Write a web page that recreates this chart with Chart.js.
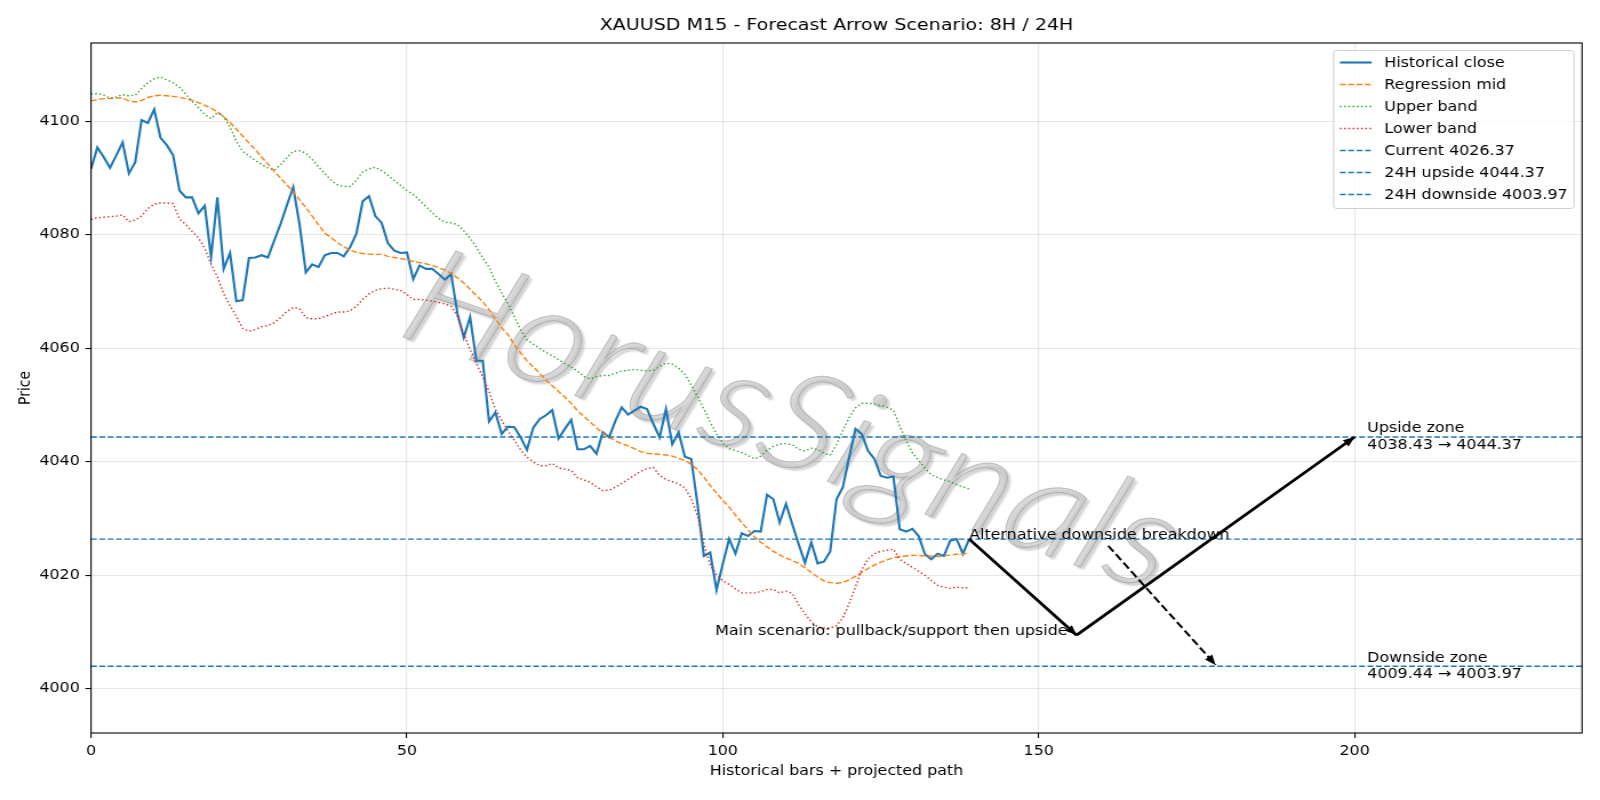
<!DOCTYPE html>
<html>
<head>
<meta charset="utf-8">
<title>XAUUSD M15 - Forecast Arrow Scenario</title>
<script src="https://cdn.jsdelivr.net/npm/chart.js@4.4.1/dist/chart.umd.min.js"></script>
<style>
  html, body { margin: 0; padding: 0; background: #fff; }
  #wrap { width: 1600px; height: 800px; }
</style>
</head>
<body>
<div id="wrap">
  <!-- drawn at 1400x800 and stretched to 1600 wide, like the source image -->
  <canvas id="chart" width="1400" height="800" style="width:1600px;height:800px"></canvas>
</div>
<script>
// --- data ---
const closes = [
  4091.6, 4095.4, 4093.7, 4091.8, 4094.0, 4096.3, 4090.8, 4092.8, 4100.2, 4099.7,
  4102.1, 4097.1, 4095.8, 4094.0, 4087.8, 4086.6, 4086.6, 4083.8, 4085.1, 4076.1,
  4086.6, 4074.0, 4076.8, 4068.3, 4068.5, 4075.9, 4076.0, 4076.4, 4076.0, 4079.0,
  4081.9, 4085.2, 4088.4, 4081.9, 4073.4, 4074.8, 4074.3, 4076.4, 4076.8, 4076.8,
  4076.2, 4077.8, 4080.2, 4085.9, 4086.8, 4083.3, 4082.1, 4078.5, 4077.2, 4076.8,
  4076.9, 4072.2, 4074.6, 4074.0, 4074.0, 4073.1, 4072.1, 4073.1, 4066.1, 4061.9,
  4065.5, 4057.8, 4057.8, 4047.1, 4048.7, 4044.9, 4046.2, 4046.1, 4044.3, 4042.1,
  4046.0, 4047.5, 4048.2, 4049.1, 4044.1, 4045.8, 4047.4, 4042.2, 4042.2, 4042.8,
  4041.4, 4045.2, 4044.3, 4047.2, 4049.6, 4048.3, 4049.0, 4049.7, 4049.3, 4046.7,
  4044.3, 4049.3, 4043.1, 4045.2, 4040.9, 4040.5, 4032.5, 4023.4, 4024.0, 4017.4,
  4022.0, 4026.4, 4023.8, 4027.4, 4026.9, 4027.8, 4027.7, 4034.2, 4033.4, 4029.3,
  4032.6, 4029.0, 4025.5, 4022.2, 4025.8, 4022.1, 4022.4, 4024.2, 4033.4, 4035.5,
  4040.8, 4045.8, 4044.9, 4041.9, 4040.5, 4037.5, 4037.2, 4037.4, 4028.1, 4027.7,
  4028.2, 4026.9, 4023.7, 4022.8, 4023.8, 4023.4, 4026.1, 4026.4, 4023.8, 4026.37
];
const regMid = [
  4103.6, 4103.8, 4104.0, 4104.0, 4104.1, 4104.1, 4103.6, 4103.4, 4103.7, 4104.2,
  4104.5, 4104.6, 4104.5, 4104.4, 4104.2, 4104.0, 4103.7, 4103.3, 4102.8, 4102.3,
  4101.7, 4100.8, 4099.8, 4098.6, 4097.4, 4096.2, 4095.0, 4093.7, 4092.5, 4091.2,
  4090.0, 4088.8, 4087.6, 4086.2, 4084.8, 4083.3, 4081.8, 4080.3, 4079.5, 4078.6,
  4077.9, 4077.3, 4076.9, 4076.7, 4076.6, 4076.5, 4076.6, 4076.2, 4076.0, 4075.8,
  4075.6, 4075.3, 4075.1, 4074.9, 4074.6, 4074.2, 4073.8, 4073.2, 4072.4, 4071.5,
  4070.4, 4069.3, 4068.2, 4066.8, 4065.2, 4063.6, 4062.4, 4060.6, 4059.2, 4057.8,
  4056.7, 4055.6, 4054.4, 4053.4, 4052.4, 4051.4, 4050.3, 4049.0, 4048.0, 4047.0,
  4046.0, 4045.0, 4044.3, 4043.7, 4043.2, 4042.8, 4042.3, 4041.8, 4041.5, 4041.4,
  4041.3, 4041.2, 4041.0, 4040.6, 4040.2, 4039.6, 4038.6, 4037.3, 4035.8, 4034.5,
  4033.2, 4032.0, 4030.6, 4029.3, 4028.0, 4026.8, 4025.8, 4025.0, 4024.2, 4023.6,
  4023.0, 4022.6, 4022.1, 4021.3, 4020.5, 4019.7, 4019.0, 4018.7, 4018.6, 4018.7,
  4019.2, 4019.8, 4020.5, 4021.2, 4021.8, 4022.3, 4022.7, 4023.1, 4023.3, 4023.4,
  4023.5, 4023.5, 4023.4, 4023.4, 4023.3, 4023.4, 4023.6, 4023.7, 4023.8, 4023.9
];
const upperBand = [
  4104.8, 4104.9, 4104.6, 4104.1, 4104.3, 4104.7, 4104.5, 4104.6, 4105.8, 4106.8,
  4107.5, 4107.8, 4107.3, 4106.8, 4106.0, 4104.8, 4103.5, 4102.4, 4101.2, 4100.5,
  4101.5, 4100.8, 4099.0, 4096.5, 4094.7, 4093.9, 4093.1, 4092.4, 4091.8, 4091.4,
  4092.3, 4093.6, 4094.7, 4094.8, 4094.4, 4093.3, 4092.0, 4090.8, 4089.6, 4088.8,
  4088.5, 4088.5, 4089.6, 4091.1, 4091.6, 4091.9, 4091.3, 4090.5, 4089.6, 4088.7,
  4087.8, 4087.1, 4086.1, 4085.0, 4083.9, 4082.9, 4082.2, 4082.1, 4081.8, 4080.7,
  4079.4, 4077.8, 4075.9, 4074.3, 4071.8, 4069.8, 4067.8, 4065.6, 4063.2, 4061.5,
  4060.7, 4060.0, 4059.3, 4058.7, 4058.0, 4057.3, 4056.7, 4056.0, 4055.0, 4054.6,
  4055.0, 4055.2, 4055.2, 4055.6, 4056.0, 4056.1, 4056.3, 4056.1, 4056.0, 4056.1,
  4056.8, 4057.4, 4057.2, 4056.5, 4055.4, 4053.5, 4051.5, 4049.3, 4047.0, 4044.9,
  4043.3, 4042.3, 4042.0, 4041.6, 4041.1, 4040.5, 4041.0, 4042.0, 4042.7, 4043.1,
  4043.2, 4043.0, 4042.2, 4041.9, 4042.4, 4042.2, 4041.5, 4041.2, 4043.0, 4045.5,
  4047.8, 4049.5, 4050.3, 4050.3, 4050.2, 4049.9, 4049.6, 4049.1, 4046.3, 4043.8,
  4041.6, 4040.2, 4038.9, 4037.7, 4037.2, 4036.8, 4036.5, 4036.0, 4035.6, 4035.2
];
const lowerBand = [
  4082.7, 4083.0, 4083.1, 4083.2, 4083.3, 4083.5, 4082.3, 4082.6, 4083.3, 4084.6,
  4085.4, 4085.6, 4085.6, 4085.5, 4082.8, 4081.8, 4080.6, 4079.5, 4077.6, 4074.8,
  4072.6, 4069.6, 4067.5, 4065.6, 4063.5, 4063.0, 4063.3, 4063.8, 4064.0, 4064.5,
  4065.4, 4066.5, 4067.2, 4067.0, 4065.4, 4065.2, 4065.2, 4065.6, 4066.0, 4066.4,
  4066.4, 4066.6, 4067.4, 4068.6, 4069.6, 4070.2, 4070.5, 4070.6, 4070.4, 4070.2,
  4069.5, 4068.6, 4068.6, 4068.5, 4068.3, 4068.1, 4067.8, 4067.4, 4065.6, 4062.5,
  4059.8, 4057.3, 4055.0, 4052.4, 4049.3, 4047.3, 4045.4, 4043.8, 4042.1, 4040.8,
  4040.0, 4039.3, 4039.3, 4039.7, 4038.9, 4038.7, 4038.5, 4037.2, 4036.8, 4036.4,
  4035.6, 4034.9, 4035.0, 4035.5, 4036.2, 4036.9, 4037.6, 4038.3, 4038.8, 4039.0,
  4037.6, 4036.9, 4036.5, 4036.1, 4035.4, 4033.5, 4030.5, 4025.5, 4021.8, 4020.1,
  4019.0, 4018.4, 4017.6, 4016.9, 4016.9, 4016.9, 4017.1, 4017.5, 4017.5, 4016.9,
  4017.2, 4016.8, 4014.8, 4013.2, 4011.8, 4010.9, 4010.7, 4010.7, 4011.1, 4012.5,
  4015.0, 4018.0, 4021.0, 4022.9, 4023.8, 4024.2, 4024.4, 4024.6, 4022.8, 4022.1,
  4021.4, 4020.7, 4020.0, 4019.1, 4018.2, 4017.9, 4017.7, 4017.9, 4017.8, 4017.8
];

const levelValues = [4026.37, 4044.37, 4003.97];
const levelLabels = ['Current 4026.37', '24H upside 4044.37', '24H downside 4003.97'];

// projected path: pullback to support, then upside; dashed alternative
const mainPathX = [139, 156, 200];
const mainPathY = [4026.37, 4009.44, 4044.37];
const altPathX = [161, 178];
const altPathY = [4025.2, 4004.2];

const zoneLabelX = 202;
const zoneLabelY = [4044.37, 4003.97];
const zoneLabels = [['Upside zone', '4038.43 \u2192 4044.37'], ['Downside zone', '4009.44 \u2192 4003.97']];

const xTicks = [0, 50, 100, 150, 200];
const yTicks = [4000, 4020, 4040, 4060, 4080, 4100];
const xRange = [0, 236];
const yRange = [3992.2, 4113.8];

const chartTitle = 'XAUUSD M15 - Forecast Arrow Scenario: 8H / 24H';
const watermark = 'HorusSignals';

// --- styling (matplotlib-like, 100 dpi) ---
const FONT = '"DejaVu Sans", "Liberation Sans", sans-serif';
const FS = 13.9;
const C0 = '#1f77b4', C1 = '#ff7f0e', C2 = '#2ca02c', C3 = '#d62728';
const DASH = [5.1, 2.2];
const DOT = [1.4, 2.3];
const GRID = 'rgba(176,176,176,0.32)';

Chart.defaults.font.family = FONT;
Chart.defaults.font.size = FS;
Chart.defaults.color = '#000';

const bars = closes.map((_, i) => i);
const toPts = ys => ys.map((y, i) => ({ x: bars[i], y: y }));
const seg = (xs, ys, a, b) => [{ x: xs[a], y: ys[a] }, { x: xs[b], y: ys[b] }];

const datasets = [
  { label: 'Historical close', data: toPts(closes), borderColor: C0, borderWidth: 2.1 },
  { label: 'Regression mid', data: toPts(regMid), borderColor: C1, borderWidth: 1.4, borderDash: DASH },
  { label: 'Upper band', data: toPts(upperBand), borderColor: C2, borderWidth: 1.4, borderDash: DOT },
  { label: 'Lower band', data: toPts(lowerBand), borderColor: C3, borderWidth: 1.4, borderDash: DOT }
];
levelValues.forEach((v, k) => {
  datasets.push({
    label: levelLabels[k],
    data: [{ x: xRange[0], y: v }, { x: xRange[1], y: v }],
    borderColor: C0, borderWidth: 1.4, borderDash: DASH
  });
});
datasets.push({ label: '', arrow: true, data: seg(mainPathX, mainPathY, 0, 1), borderColor: '#000', borderWidth: 2.8 });
datasets.push({ label: '', arrow: true, data: seg(mainPathX, mainPathY, 1, 2), borderColor: '#000', borderWidth: 2.8 });
datasets.push({ label: '', arrow: true, data: seg(altPathX, altPathY, 0, 1), borderColor: '#000', borderWidth: 2, borderDash: [7.5, 3.3] });
// later datasets on top, like matplotlib
datasets.forEach((d, i) => { d.order = datasets.length - i; });

function arrowHead(ctx, x0, y0, x1, y1, len, half) {
  const a = Math.atan2(y1 - y0, x1 - x0);
  ctx.beginPath();
  ctx.moveTo(x1, y1);
  ctx.lineTo(x1 - len * Math.cos(a) + half * Math.sin(a), y1 - len * Math.sin(a) - half * Math.cos(a));
  ctx.lineTo(x1 - len * Math.cos(a) - half * Math.sin(a), y1 - len * Math.sin(a) + half * Math.cos(a));
  ctx.closePath();
  ctx.fill();
}

const decor = {
  id: 'decor',
  beforeDatasetsDraw(chart) {
    const { ctx, chartArea: ca } = chart;
    ctx.save();
    ctx.beginPath();
    ctx.rect(ca.left, ca.top, ca.width, ca.height);
    ctx.clip();
    ctx.translate(ca.left + 614, ca.top + 379);
    ctx.rotate(0.37);
    ctx.font = 'italic 300 137px Lato, ' + FONT;
    ctx.textAlign = 'center';
    ctx.textBaseline = 'middle';
    ctx.shadowColor = 'rgba(0,0,0,0.25)';
    ctx.shadowOffsetX = 3;
    ctx.shadowOffsetY = 3;
    ctx.shadowBlur = 2;
    ctx.fillStyle = 'rgba(200,200,200,0.7)';
    ctx.fillText(watermark, 0, 0);
    ctx.shadowColor = 'transparent';
    ctx.strokeStyle = 'rgba(140,140,140,0.45)';
    ctx.lineWidth = 1;
    ctx.strokeText(watermark, 0, 0);
    ctx.restore();
  },
  afterDatasetsDraw(chart) {
    const { ctx } = chart;
    const xs = chart.scales.x, ys = chart.scales.y;
    ctx.save();
    ctx.fillStyle = '#000';
    chart.data.datasets.forEach((d, i) => {
      if (!d.arrow) return;
      const pts = chart.getDatasetMeta(i).data;
      const p0 = pts[0], p1 = pts[pts.length - 1];
      arrowHead(ctx, p0.x, p0.y, p1.x, p1.y, 10, 4);
    });

    ctx.font = FS + 'px ' + FONT;
    ctx.textBaseline = 'alphabetic';
    ctx.textAlign = 'left';
    ctx.fillText('Alternative downside breakdown', xs.getPixelForValue(mainPathX[0]), ys.getPixelForValue(mainPathY[0]));
    ctx.textAlign = 'right';
    ctx.fillText('Main scenario: pullback/support then upside', xs.getPixelForValue(mainPathX[1]) - 8, ys.getPixelForValue(mainPathY[1]));

    ctx.textAlign = 'left';
    ctx.textBaseline = 'middle';
    zoneLabels.forEach((lines, k) => {
      const px = xs.getPixelForValue(zoneLabelX);
      const py = ys.getPixelForValue(zoneLabelY[k]);
      ctx.fillText(lines[0], px, py - 8.3);
      ctx.fillText(lines[1], px, py + 8.3);
    });
    ctx.restore();
  },
  afterDraw(chart) {
    const { ctx, chartArea: ca } = chart;
    ctx.save();
    // spines
    ctx.strokeStyle = '#000';
    ctx.lineWidth = 1.1;
    ctx.strokeRect(ca.left, ca.top, ca.width, ca.height);

    // title
    ctx.fillStyle = '#000';
    ctx.font = '16.7px ' + FONT;
    ctx.textAlign = 'center';
    ctx.textBaseline = 'middle';
    ctx.fillText(chartTitle, (ca.left + ca.right) / 2, 25.5);

    // legend (upper right, inside axes)
    const items = chart.data.datasets.filter(d => d.label);
    ctx.font = FS + 'px ' + FONT;
    const textW = Math.max(...items.map(d => ctx.measureText(d.label).width));
    const rowH = 22;
    const w = 5.6 + 27.8 + 11.1 + textW + 5.6;
    const h = items.length * rowH + 4;
    const right = ca.right - 7, top = ca.top + 7.5;
    const left = right - w;
    ctx.beginPath();
    ctx.roundRect(left, top, w, h, 3);
    ctx.fillStyle = 'rgba(255,255,255,0.8)';
    ctx.fill();
    ctx.strokeStyle = '#d0d0d0';
    ctx.lineWidth = 1;
    ctx.stroke();
    ctx.textAlign = 'left';
    ctx.textBaseline = 'middle';
    items.forEach((d, k) => {
      const y = top + 12 + k * rowH;
      ctx.beginPath();
      ctx.setLineDash(d.borderDash || []);
      ctx.strokeStyle = d.borderColor;
      ctx.lineWidth = d.borderWidth;
      ctx.moveTo(left + 5.6, y);
      ctx.lineTo(left + 33.4, y);
      ctx.stroke();
      ctx.setLineDash([]);
      ctx.fillStyle = '#000';
      ctx.fillText(d.label, left + 44.5, y + 1);
    });
    ctx.restore();
  }
};

new Chart(document.getElementById('chart'), {
  type: 'line',
  data: { datasets: datasets },
  options: {
    responsive: false,
    animation: false,
    devicePixelRatio: 1,
    layout: { padding: { top: 43, right: 15.75, bottom: 0, left: 0 } },
    elements: {
      point: { radius: 0, hoverRadius: 0 },
      line: { tension: 0, fill: false, borderCapStyle: 'butt' }
    },
    plugins: {
      legend: { display: false },
      tooltip: { enabled: false },
      title: { display: false }
    },
    scales: {
      x: {
        type: 'linear',
        min: xRange[0],
        max: xRange[1],
        afterBuildTicks: s => { s.ticks = xTicks.map(v => ({ value: v })); },
        afterFit: s => { s.height = 67; },
        border: { display: false },
        grid: { color: GRID, lineWidth: 1.1, tickColor: '#000', tickLength: 4.9, tickWidth: 1.1 },
        ticks: { padding: 4.9, maxRotation: 0, autoSkip: false, color: '#000', font: { size: FS }, callback: v => String(v) },
        title: { display: true, text: 'Historical bars + projected path', color: '#000', font: { size: FS }, padding: { top: 0, bottom: 20.7 } }
      },
      y: {
        type: 'linear',
        min: yRange[0],
        max: yRange[1],
        afterBuildTicks: s => { s.ticks = yTicks.map(v => ({ value: v })); },
        afterFit: s => { s.width = 79.6; },
        border: { display: false },
        grid: { color: GRID, lineWidth: 1.1, tickColor: '#000', tickLength: 4.9, tickWidth: 1.1 },
        ticks: { padding: 4.9, autoSkip: false, color: '#000', font: { size: FS }, callback: v => String(v) },
        title: { display: true, text: 'Price', color: '#000', font: { size: FS }, padding: { top: 14, bottom: 0 } }
      }
    }
  },
  plugins: [decor]
});
</script>
</body>
</html>
